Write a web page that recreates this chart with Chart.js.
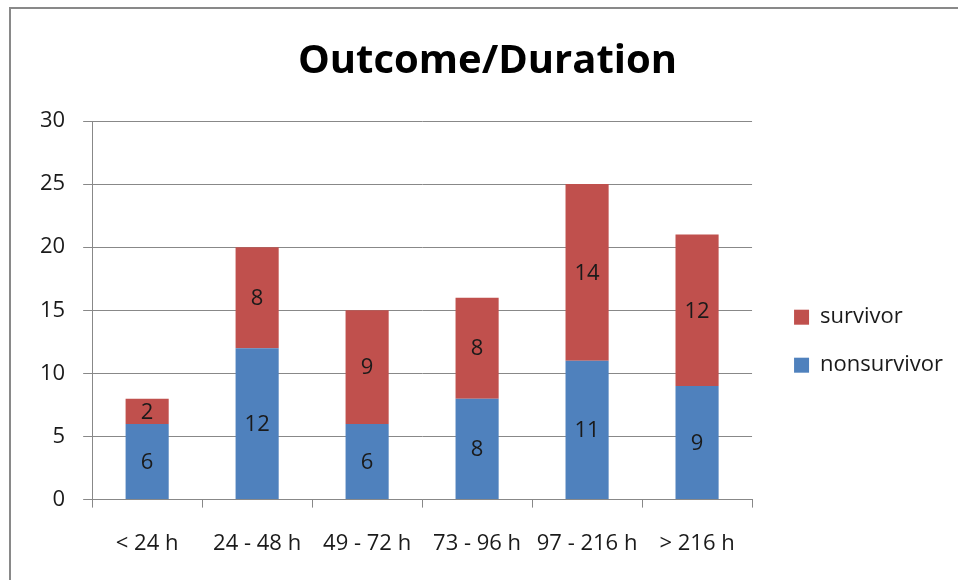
<!DOCTYPE html>
<html>
<head>
<meta charset="utf-8">
<script src="https://cdn.jsdelivr.net/npm/chart.js@4"></script>
<style>
  html, body { margin: 0; padding: 0; background: #fff; }
  #wrap { position: relative; width: 958px; height: 580px; }
</style>
</head>
<body>
<div id="wrap"><canvas id="outcomeChart" width="958" height="580"></canvas></div>
<script>
// chart data
var categories = ['< 24 h', '24 - 48 h', '49 - 72 h', '73 - 96 h', '97 - 216 h', '> 216 h'];
var nonsurvivor = [6, 12, 6, 8, 11, 9];
var survivor = [2, 8, 9, 8, 14, 12];
var yTicks = [0, 5, 10, 15, 20, 25, 30];

var fontName = "'Open Sans', sans-serif";

// frame round the chart, like the spreadsheet export
var framePlugin = {
    id: 'frame',
    beforeDraw: function (chart) {
        var ctx = chart.ctx;
        ctx.save();
        ctx.strokeStyle = '#898989';
        ctx.lineWidth = 2;
        ctx.strokeRect(10, 8, 1000, 1000);
        ctx.restore();
    }
};

// value written in the middle of each bar segment
var valueLabels = {
    id: 'valueLabels',
    afterDatasetsDraw: function (chart) {
        var ctx = chart.ctx;
        ctx.save();
        ctx.font = '22px ' + fontName;
        ctx.fillStyle = '#1a1a1a';
        ctx.textAlign = 'center';
        ctx.textBaseline = 'middle';
        chart.data.datasets.forEach(function (ds, i) {
            chart.getDatasetMeta(i).data.forEach(function (bar, j) {
                var mid = (bar.y + bar.base) / 2;
                ctx.fillText(ds.data[j], bar.x, mid + 1);
            });
        });
        ctx.restore();
    }
};

var ctx = document.getElementById('outcomeChart').getContext('2d');
var outcomeChart = new Chart(ctx, {
    type: 'bar',
    data: {
        labels: categories,
        datasets: [{
            label: 'nonsurvivor',
            data: nonsurvivor,
            backgroundColor: '#4F81BD',
            categoryPercentage: 0.8,
            barPercentage: 0.49
        }, {
            label: 'survivor',
            data: survivor,
            backgroundColor: '#C0504D',
            categoryPercentage: 0.8,
            barPercentage: 0.49
        }]
    },
    options: {
        responsive: false,
        animation: false,
        layout: {
            padding: { left: 22, right: 5, top: 24, bottom: 0 }
        },
        plugins: {
            title: {
                display: true,
                text: 'Outcome/Duration',
                color: '#000',
                font: { family: fontName, size: 40, weight: 'bold' },
                padding: { top: 14, bottom: 35 }
            },
            legend: {
                position: 'right',
                reverse: true,
                maxWidth: 190,
                // empty title only pushes the entries down a bit
                title: { display: true, text: '', font: { size: 12 }, padding: 32 },
                labels: {
                    color: '#1a1a1a',
                    font: { family: fontName, size: 22 },
                    boxWidth: 15,
                    boxHeight: 15,
                    padding: 26
                }
            },
            tooltip: { enabled: false }
        },
        scales: {
            x: {
                stacked: true,
                border: { color: '#888', width: 1 },
                grid: {
                    drawOnChartArea: false,
                    drawTicks: true,
                    tickLength: 8,
                    color: '#888'
                },
                ticks: {
                    color: '#1a1a1a',
                    font: { family: fontName, size: 22 },
                    padding: 23,
                    maxRotation: 0
                }
            },
            y: {
                stacked: true,
                min: 0,
                max: 30,
                afterBuildTicks: function (axis) {
                    axis.ticks = yTicks.map(function (v) { return { value: v }; });
                },
                border: { color: '#888', width: 1 },
                grid: {
                    color: '#888',
                    tickLength: 9
                },
                ticks: {
                    color: '#1a1a1a',
                    font: { family: fontName, size: 22 },
                    padding: 18
                }
            },
            // empty strip between plot and legend
            gap: {
                position: 'right',
                display: true,
                grid: { display: false },
                border: { display: false },
                ticks: { display: false },
                afterFit: function (axis) { axis.width = 16; }
            }
        }
    },
    plugins: [framePlugin, valueLabels]
});
</script>
</body>
</html>
